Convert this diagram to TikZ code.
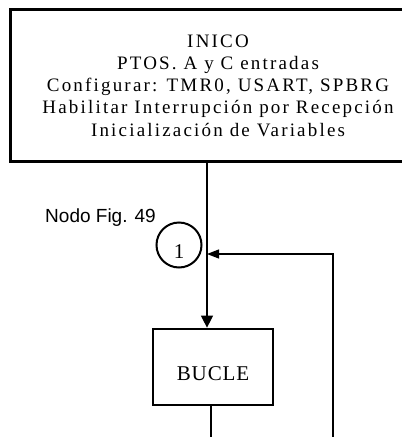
\documentclass[tikz,border=0pt]{standalone}
\usepackage{fontspec}
\setmainfont{Liberation Serif}
\newfontfamily\boxfont[LetterSpace=11.5]{Liberation Serif}
\newfontfamily\bucfont[LetterSpace=4]{Liberation Serif}
\newfontfamily\labfont{Liberation Sans}
\usetikzlibrary{arrows.meta}
\begin{document}
\begin{tikzpicture}[x=1pt,y=-1pt,
  conn/.style={line width=1.2pt},
  procbox/.style={draw, line width=2.7pt, inner sep=0pt, align=center},
  connector/.style={circle, draw, line width=2pt, minimum size=45pt, inner sep=0pt},
  downarrow/.style={-{Triangle[length=12pt,width=12pt]}},
  leftarrow/.style={-{Triangle[length=12pt,width=9pt]}}]
\useasboundingbox (0,0) rectangle (402,437);
\node[procbox, minimum width=415pt, minimum height=152pt,
      font=\boxfont\fontsize{19}{22.3}\selectfont] (inicio) at (218,85.5)
  {INICO\\PTOS. A y C entradas\\Configurar: TMR0, USART, SPBRG\\Habilitar Interrupción por Recepción\\Inicialización de Variables};
\node[connector, text height=27.6pt, text depth=0pt,
      font=\fontsize{21}{25}\selectfont] (n1) at (179,245) {1};
\node[font=\labfont\fontsize{19}{23}\selectfont, anchor=base] (lab) at (100.5,222) {Nodo Fig. 49};
\node[procbox, minimum width=120pt, minimum height=76pt, text height=26pt, text depth=0pt,
      font=\bucfont\fontsize{21}{25}\selectfont] (bucle) at (213,367) {BUCLE};
\coordinate (j) at (207,254);
\coordinate (fb) at (333,437);
\coordinate (bot) at (211,437);
\draw[conn, downarrow] (inicio.south -| j) -- (bucle.north -| j);
\draw[conn, leftarrow] (fb) |- (j);
\draw[conn] (bucle.south -| bot) -- (bot);
\end{tikzpicture}
\end{document}
